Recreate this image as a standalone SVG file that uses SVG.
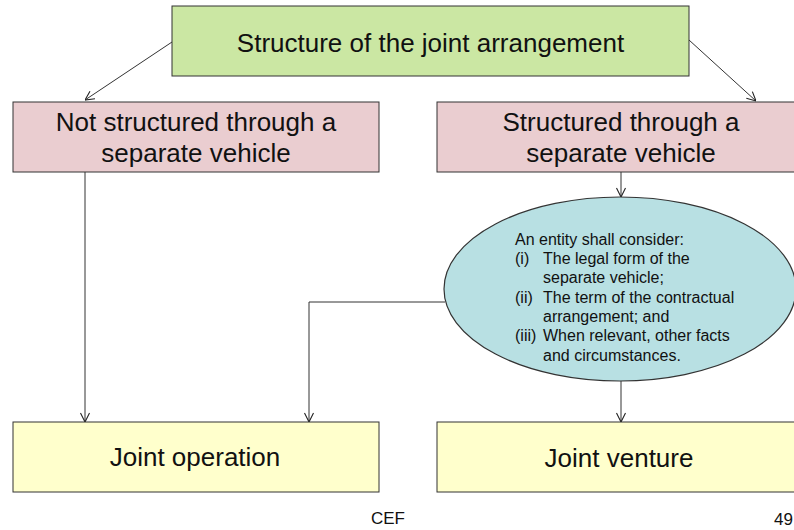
<svg xmlns="http://www.w3.org/2000/svg" width="794" height="530" viewBox="0 0 794 530">
  <defs>
    <marker id="open-arrow" viewBox="0 0 10 10" refX="10" refY="5" markerWidth="10" markerHeight="10" markerUnits="userSpaceOnUse" orient="auto">
      <path d="M1,0.5 L10,5 L1,9.5" fill="none" stroke="#222" stroke-width="1.1"/>
    </marker>
  </defs>
  <style>
    text { font-family: "Liberation Sans", Arial, sans-serif; fill: #111; }
    .box { stroke: #333; stroke-width: 1; }
    .big { font-size: 26px; text-anchor: middle; }
    .small { font-size: 16px; }
    .foot { font-size: 17px; }
    .conn { fill: none; stroke: #333; stroke-width: 1; marker-end: url(#open-arrow); }
  </style>

  <rect width="794" height="530" fill="#ffffff"/>

  <!-- connectors -->
  <g id="connectors">
    <line class="conn" x1="172" y1="42" x2="85" y2="100"/>
    <line class="conn" x1="689" y1="40" x2="756" y2="101"/>
    <line class="conn" x1="85" y1="172" x2="85" y2="422"/>
    <polyline class="conn" points="445,302 309,302 309,422"/>
    <line class="conn" x1="621" y1="172" x2="621" y2="197"/>
    <line class="conn" x1="621" y1="381" x2="621" y2="422"/>
  </g>

  <g id="structure">
    <rect class="box" x="172" y="6" width="517" height="70" fill="#cbe7a3"/>
    <text class="big" x="430.5" y="52">Structure of the joint arrangement</text>
  </g>

  <g id="not-structured">
    <rect class="box" x="13" y="102" width="366" height="70" fill="#eacdd0"/>
    <text class="big" x="196" y="131">Not structured through a</text>
    <text class="big" x="196" y="162">separate vehicle</text>
  </g>

  <g id="structured">
    <rect class="box" x="437" y="102" width="366" height="70" fill="#eacdd0"/>
    <text class="big" x="621" y="131">Structured through a</text>
    <text class="big" x="621" y="162">separate vehicle</text>
  </g>

  <g id="considerations">
    <ellipse cx="620" cy="289" rx="176" ry="92" fill="#b8e0e3" stroke="#333" stroke-width="1.2"/>
    <text class="small" x="515" y="244.5">An entity shall consider:</text>
    <text class="small" x="515" y="264">(i)</text>
    <text class="small" x="543" y="264">The legal form of the</text>
    <text class="small" x="543" y="283.3">separate vehicle;</text>
    <text class="small" x="515" y="302.6">(ii)</text>
    <text class="small" x="543" y="302.6">The term of the contractual</text>
    <text class="small" x="543" y="321.9">arrangement; and</text>
    <text class="small" x="515" y="341.2">(iii)</text>
    <text class="small" x="543" y="341.2">When relevant, other facts</text>
    <text class="small" x="543" y="360.5">and circumstances.</text>
  </g>

  <g id="joint-operation">
    <rect class="box" x="13" y="422" width="366" height="70" fill="#ffffcc"/>
    <text class="big" x="195" y="466">Joint operation</text>
  </g>

  <g id="joint-venture">
    <rect class="box" x="437" y="422" width="366" height="70" fill="#ffffcc"/>
    <text class="big" x="619" y="467">Joint venture</text>
  </g>

  <g id="footer">
    <text class="foot" x="388" y="524" text-anchor="middle">CEF</text>
    <text class="foot" x="793" y="525" text-anchor="end">49</text>
  </g>
</svg>
